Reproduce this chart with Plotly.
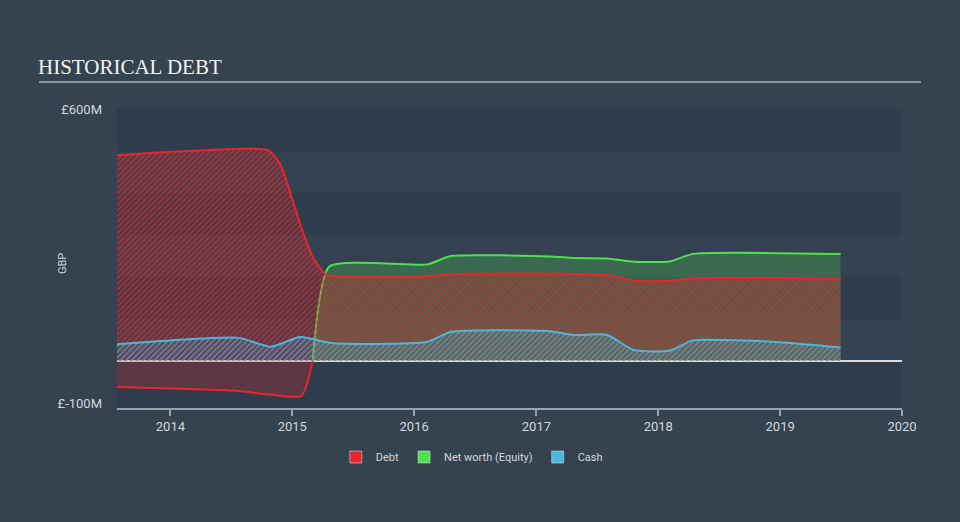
import plotly.graph_objects as go

# ---- data (GBP millions) ----
debt_dates = ["2013-07-25", "2014-01-01", "2014-07-15", "2014-10-20", "2014-11-25",
              "2015-01-01", "2015-01-28", "2015-03-03", "2015-04-05", "2015-04-22",
              "2016-02-10", "2016-04-20", "2017-08-01", "2017-10-20", "2018-02-05",
              "2018-04-15", "2019-07-01"]
debt_vals = [490, 498, 505, 502, 470, 385, 318, 248, 210, 203,
             202, 207, 205, 191, 191, 197, 196]

equity_neg_dates = ["2013-07-25", "2014-07-15", "2014-10-25", "2015-01-28", "2015-03-03"]
equity_neg_vals = [-62, -71, -80, -83, 0]
equity_pos_dates = ["2015-03-03", "2015-04-22", "2016-02-10", "2016-04-20", "2017-02-10",
                    "2017-04-22", "2017-08-01", "2017-10-20", "2018-02-05", "2018-04-15",
                    "2019-07-01"]
equity_pos_vals = [0, 225, 230, 250, 249, 245, 244, 236, 237, 255, 255]

cash_dates = ["2013-07-25", "2014-01-01", "2014-07-25", "2014-10-28", "2015-01-25",
              "2015-04-25", "2016-02-05", "2016-04-20", "2017-02-10", "2017-04-22",
              "2017-08-01", "2017-10-20", "2018-02-05", "2018-04-15", "2018-09-05",
              "2019-01-10", "2019-07-01"]
cash_vals = [40, 49, 55, 34, 57, 43, 45, 69, 71, 62, 62, 26, 25, 49, 49, 44, 32]

x_ticks = ["2014-01-01", "2015-01-01", "2016-01-01", "2017-01-01",
           "2018-01-01", "2019-01-01", "2020-01-01"]
x_tick_text = ["2014", "2015", "2016", "2017", "2018", "2019", "2020"]
y_ticks = [-100, 600]
y_tick_text = ["£-100M", "£600M"]
band_edges = [-112, 0, 100, 200, 300, 400, 500, 600]

RED = "#e8262b"
GREEN = "#4ee04e"
BLUE = "#4ab8de"

fig = go.Figure()

# equity (negative part, red)
fig.add_trace(go.Scatter(
    x=equity_neg_dates, y=equity_neg_vals, mode="lines",
    line=dict(color=RED, width=2, shape="spline", smoothing=0.6),
    fill="tozeroy", fillcolor="rgba(232,38,43,0.25)",
    showlegend=False, hoverinfo="skip"))
# equity (positive part, green)
fig.add_trace(go.Scatter(
    x=equity_pos_dates, y=equity_pos_vals, mode="lines",
    line=dict(color=GREEN, width=2, shape="spline", smoothing=0.5),
    fill="tozeroy", fillcolor="rgba(78,224,78,0.25)",
    showlegend=False, hoverinfo="skip"))
# debt
fig.add_trace(go.Scatter(
    x=debt_dates, y=debt_vals, mode="lines",
    line=dict(color=RED, width=2, shape="spline", smoothing=0.6),
    fill="tozeroy", fillcolor="rgba(232,38,43,0.12)",
    fillpattern=dict(shape="/", fgcolor="rgba(232,38,43,0.65)",
                     bgcolor="rgba(232,38,43,0.12)", size=4, solidity=0.4,
                     fillmode="replace"),
    showlegend=False, hoverinfo="skip"))
# cash
fig.add_trace(go.Scatter(
    x=cash_dates, y=cash_vals, mode="lines",
    line=dict(color=BLUE, width=2, shape="spline", smoothing=0.6),
    fill="tozeroy", fillcolor="rgba(74,184,222,0.12)",
    fillpattern=dict(shape="/", fgcolor="rgba(74,184,222,0.5)",
                     bgcolor="rgba(74,184,222,0.12)", size=4, solidity=0.4,
                     fillmode="replace"),
    showlegend=False, hoverinfo="skip"))

# legend entries
for name, col in [("Debt", RED), ("Net worth (Equity)", GREEN), ("Cash", BLUE)]:
    fig.add_trace(go.Bar(x=[None], y=[None], name=name, marker_color=col))

# background bands
shapes = []
for i in range(len(band_edges) - 1):
    shapes.append(dict(type="rect", xref="paper", yref="y", x0=0, x1=1,
                       y0=band_edges[i], y1=band_edges[i + 1], layer="below",
                       line=dict(width=0),
                       fillcolor="#2f3c4b" if i % 2 == 0 else "#334150"))
# title underline
shapes.append(dict(type="line", xref="paper", yref="paper",
                   x0=-0.0994, x1=1.0242, y0=1.0903, y1=1.0903,
                   line=dict(color="#aeb4ba", width=1.5)))

fig.update_layout(
    width=960, height=522,
    margin=dict(l=117, r=58, t=109, b=114),
    paper_bgcolor="#35424f", plot_bgcolor="rgba(0,0,0,0)",
    font=dict(family="Roboto, Arial, sans-serif", color="#d2d6da"),
    shapes=shapes,
    showlegend=True,
    legend=dict(orientation="h", x=0.452, xanchor="center", y=-0.164, yanchor="middle",
                font=dict(size=11, color="#d2d6da"), bgcolor="rgba(0,0,0,0)"),
    annotations=[
        dict(text="HISTORICAL DEBT", xref="paper", yref="paper", x=-0.1035, y=1.14,
             xanchor="left", yanchor="middle", showarrow=False,
             font=dict(family="Liberation Serif, Times New Roman, serif", size=21,
                       color="#f2f2f2")),
        dict(text="GBP", xref="paper", yref="paper", x=-0.0688, y=0.485,
             xanchor="center", yanchor="middle", showarrow=False, textangle=-90,
             font=dict(size=11, color="#d2d6da")),
    ],
)

fig.update_xaxes(
    type="date", range=["2013-07-25", "2020-01-01"],
    tickvals=x_ticks, ticktext=x_tick_text,
    showgrid=False, zeroline=False,
    showline=True, linecolor="#9aa3ad", linewidth=1.5,
    ticks="outside", ticklen=6, tickcolor="#9aa3ad", tickwidth=1.5,
    tickfont=dict(size=13, color="#d2d6da"),
)
fig.update_yaxes(
    range=[-112, 600], tickvals=y_ticks, ticktext=y_tick_text,
    showgrid=False, zeroline=True, zerolinecolor="#d8dce0", zerolinewidth=1.5,
    showline=False, ticks="", ticklabelstandoff=14,
    tickfont=dict(size=13, color="#d2d6da"),
)

fig.write_html("out.html")
